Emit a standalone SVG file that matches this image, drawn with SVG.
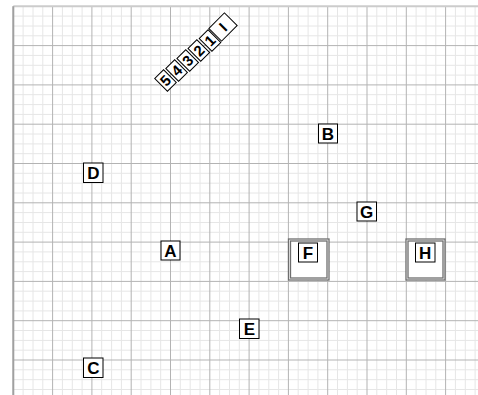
<svg xmlns="http://www.w3.org/2000/svg" width="478" height="395" viewBox="0 0 478 395">
<style>
.minor{stroke:#e6e6e6;stroke-width:1;fill:none}
.major{stroke:#b3b3b3;stroke-width:1;fill:none}
.lbl rect{fill:#fff;stroke:#000;stroke-width:1}
.lbl text{font-family:"Liberation Sans",Arial,sans-serif;font-weight:bold;font-size:17px;text-anchor:middle;fill:#000}
.rot text{font-size:15px}
.cont{fill:#fff;stroke:#6e6e6e;stroke-width:1.3}
</style>
<rect width="478" height="395" fill="#fff"/>
<g id="grid">
<path class="minor" d="M23.1 6.3V395M33 6.3V395M42.8 6.3V395M62.4 6.3V395M72.3 6.3V395M82.1 6.3V395M101.7 6.3V395M111.6 6.3V395M121.4 6.3V395M141 6.3V395M150.9 6.3V395M160.7 6.3V395M180.3 6.3V395M190.2 6.3V395M200 6.3V395M219.6 6.3V395M229.5 6.3V395M239.3 6.3V395M258.9 6.3V395M268.8 6.3V395M278.6 6.3V395M298.2 6.3V395M308.1 6.3V395M317.9 6.3V395M337.5 6.3V395M347.4 6.3V395M357.2 6.3V395M376.8 6.3V395M386.7 6.3V395M396.5 6.3V395M416.1 6.3V395M426 6.3V395M435.8 6.3V395M455.4 6.3V395M465.3 6.3V395M475.1 6.3V395
M13.3 16.1H478M13.3 26H478M13.3 35.8H478M13.3 55.4H478M13.3 65.3H478M13.3 75.1H478M13.3 94.7H478M13.3 104.6H478M13.3 114.4H478M13.3 134H478M13.3 143.9H478M13.3 153.7H478M13.3 173.3H478M13.3 183.2H478M13.3 193H478M13.3 212.6H478M13.3 222.5H478M13.3 232.3H478M13.3 251.9H478M13.3 261.8H478M13.3 271.6H478M13.3 291.2H478M13.3 301.1H478M13.3 310.9H478M13.3 330.5H478M13.3 340.4H478M13.3 350.2H478M13.3 369.8H478M13.3 379.7H478M13.3 389.5H478"/>
<path class="major" d="M13.3 6.3V395M52.6 6.3V395M91.9 6.3V395M131.2 6.3V395M170.5 6.3V395M209.8 6.3V395M249.1 6.3V395M288.4 6.3V395M327.7 6.3V395M367 6.3V395M406.3 6.3V395M445.6 6.3V395
M13.3 45.6H478M13.3 84.9H478M13.3 124.2H478M13.3 163.5H478M13.3 202.8H478M13.3 242.1H478M13.3 281.4H478M13.3 320.7H478M13.3 360H478"/>
<path d="M13.3 6.3H478" stroke="#cccccc" stroke-width="2" fill="none"/>
<path d="M13.3 6.3V395" stroke="#a0a0a0" stroke-width="2" fill="none"/>
</g>
<g id="connectors"></g>
<g id="F"><rect class="cont" x="288.5" y="239" width="40.5" height="41"/><rect class="cont" x="290.5" y="241" width="36.5" height="37"/><g class="lbl"><rect x="298.5" y="243" width="19" height="19"/><text x="308" y="258.6">F</text></g></g>
<g id="H"><rect class="cont" x="406" y="239" width="39" height="41"/><rect class="cont" x="408" y="241" width="35" height="37"/><g class="lbl"><rect x="415.5" y="243" width="19.5" height="19"/><text x="425.2" y="258.6">H</text></g></g>
<g id="A" class="lbl"><rect x="161" y="241" width="19" height="19"/><text x="170.5" y="256.6">A</text></g>
<g id="B" class="lbl"><rect x="318.5" y="124" width="19" height="19"/><text x="328" y="139.6">B</text></g>
<g id="C" class="lbl"><rect x="83.5" y="358" width="19.5" height="19.5"/><text x="93.3" y="373.8">C</text></g>
<g id="D" class="lbl"><rect x="83.5" y="163" width="19.5" height="19.5"/><text x="93.3" y="178.8">D</text></g>
<g id="E" class="lbl"><rect x="239.5" y="319" width="19.5" height="19.5"/><text x="249.3" y="334.8">E</text></g>
<g id="G" class="lbl"><rect x="357" y="202" width="19.5" height="19"/><text x="366.7" y="217.6">G</text></g>
<g id="n5" class="lbl rot" transform="translate(165.5,80.5) rotate(-45)"><rect x="-6.25" y="-9" width="12.5" height="18"/><text x="0" y="5.4">5</text></g>
<g id="n4" class="lbl rot" transform="translate(176.6,70.5) rotate(-45)"><rect x="-6.25" y="-9" width="12.5" height="18"/><text x="0" y="5.4">4</text></g>
<g id="n3" class="lbl rot" transform="translate(187.7,60.5) rotate(-45)"><rect x="-6.25" y="-9" width="12.5" height="18"/><text x="0" y="5.4">3</text></g>
<g id="n2" class="lbl rot" transform="translate(198.8,50.5) rotate(-45)"><rect x="-6.25" y="-9" width="12.5" height="18"/><text x="0" y="5.4">2</text></g>
<g id="n1" class="lbl rot" transform="translate(210,40.5) rotate(-45)"><rect x="-6.25" y="-9" width="12.5" height="18"/><text x="0" y="5.4">1</text></g>
<g id="nI" class="lbl rot" transform="translate(223,27) rotate(-45)"><rect x="-11" y="-9" width="22" height="18"/><text x="0" y="5.4">I</text></g>
</svg>
